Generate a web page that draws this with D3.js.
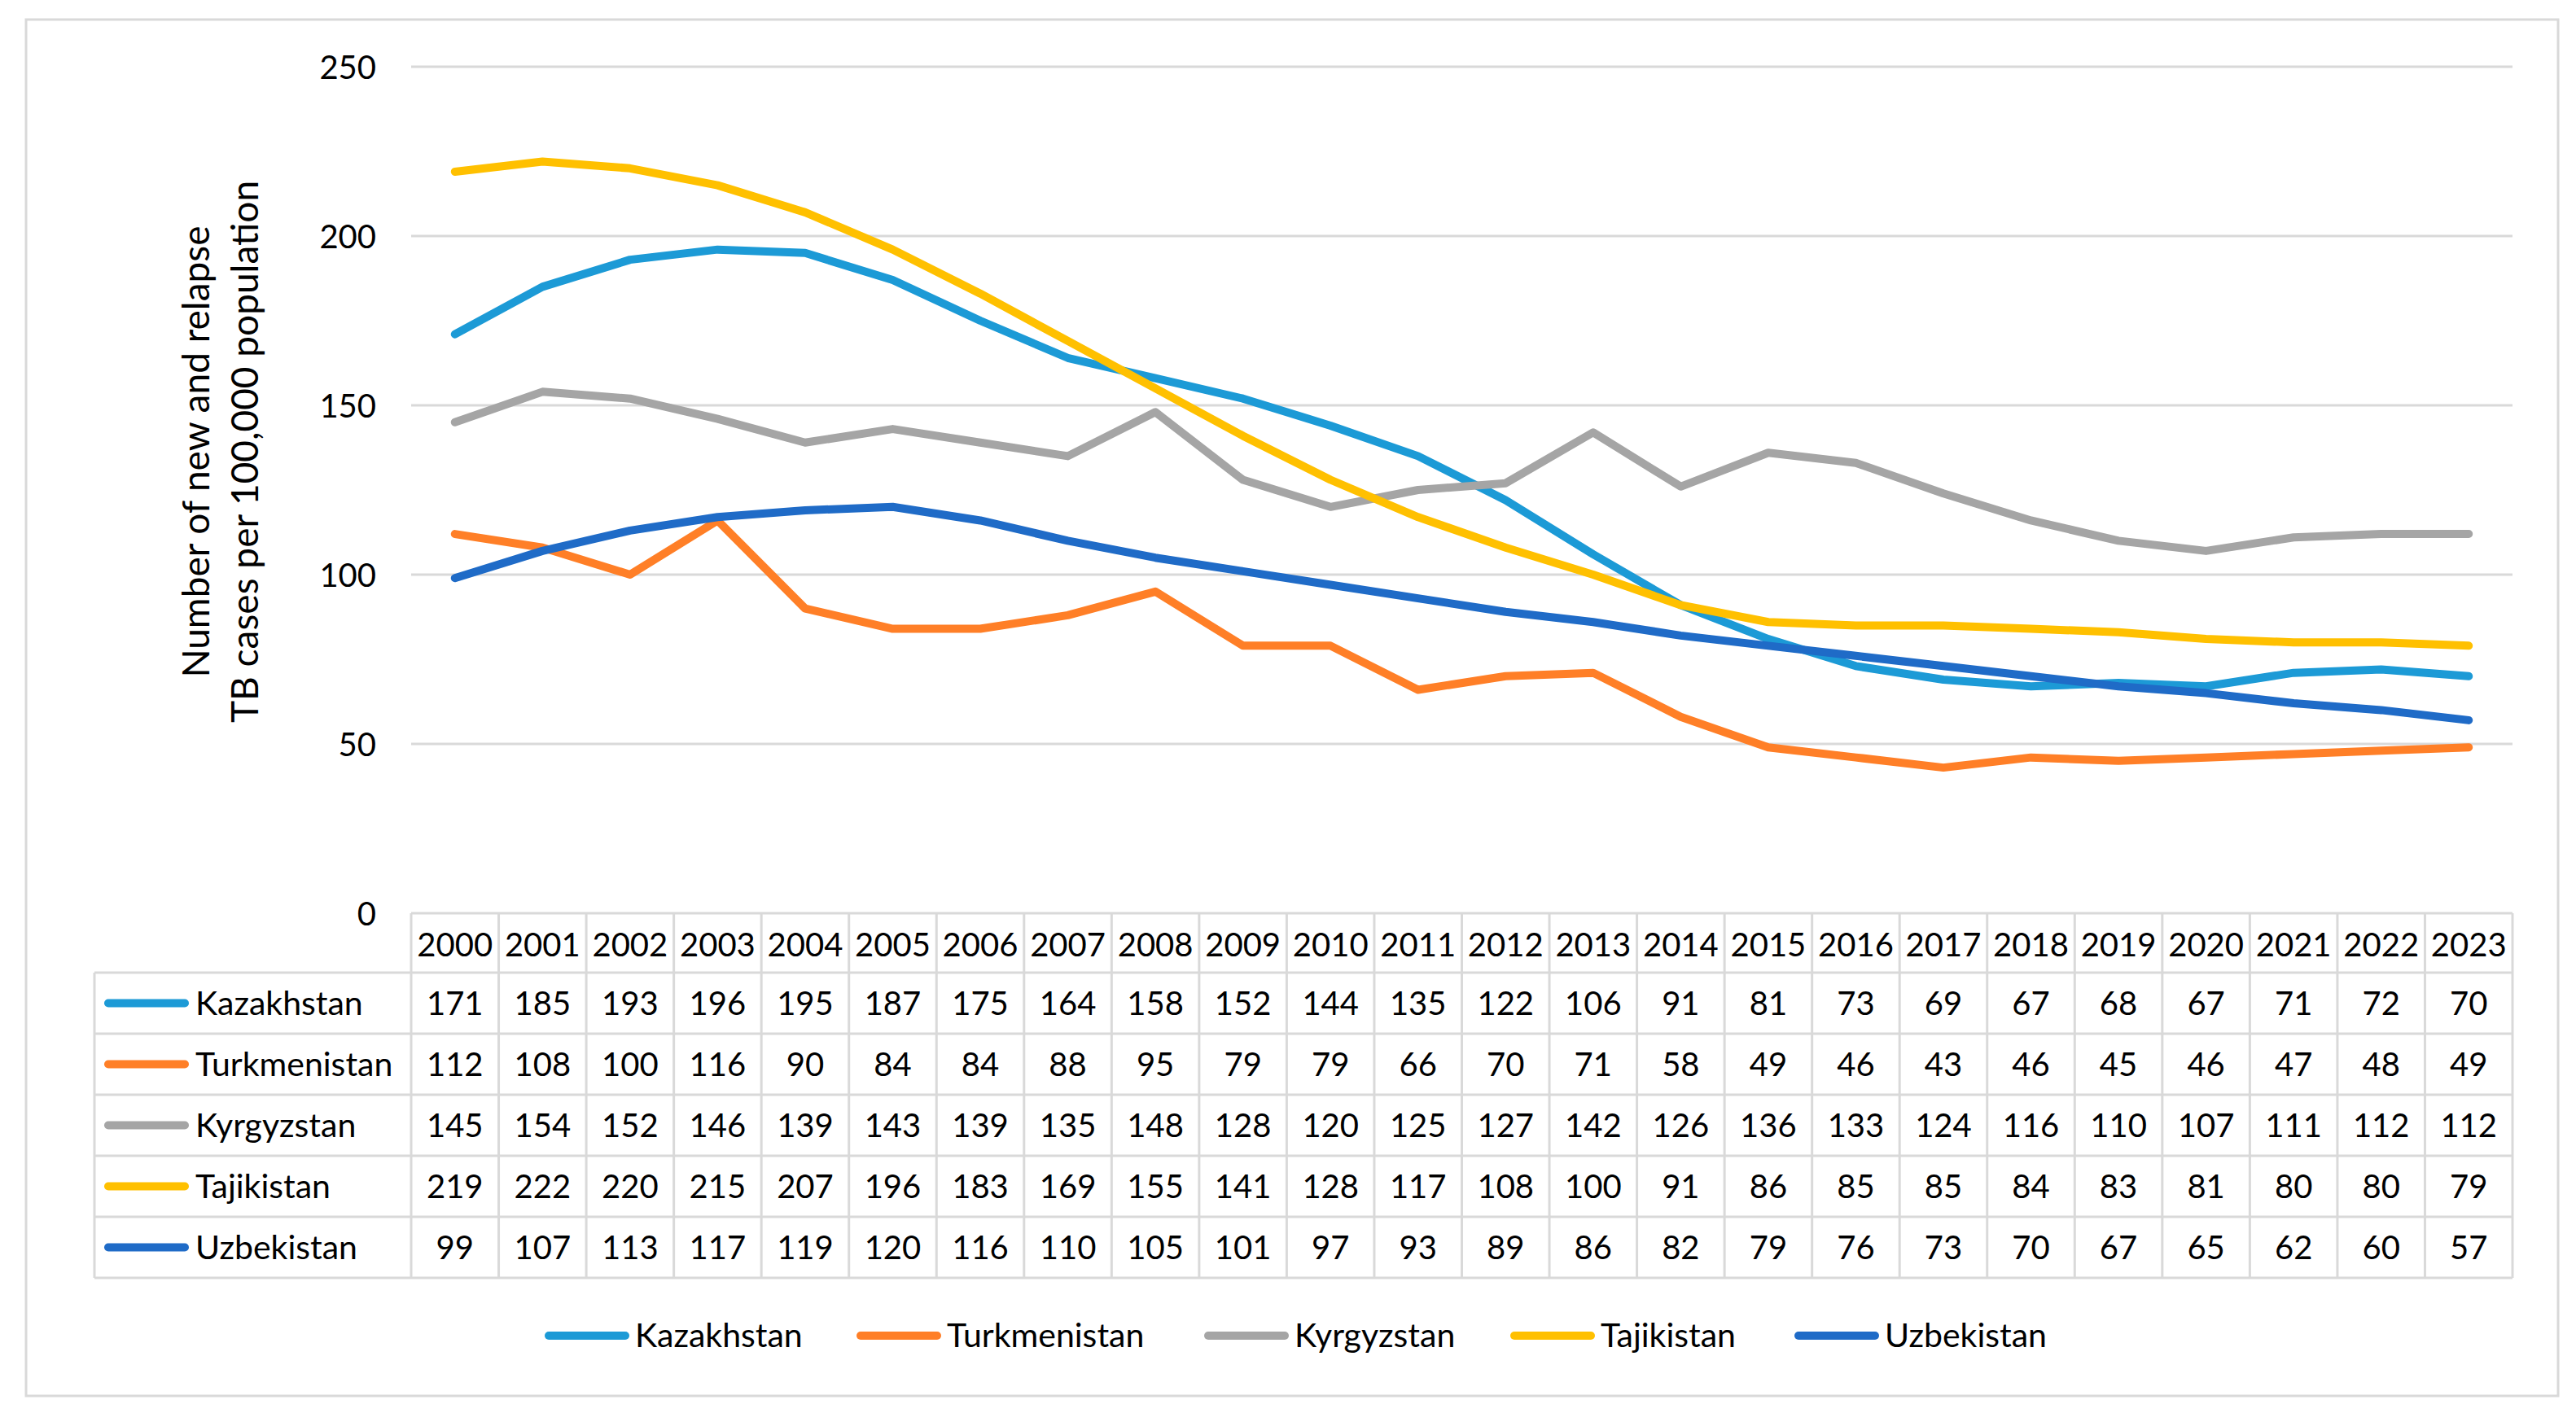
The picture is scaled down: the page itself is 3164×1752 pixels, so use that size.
<!DOCTYPE html>
<html><head><meta charset="utf-8">
<script src="https://cdn.jsdelivr.net/npm/d3@7"></script>
<style>
html,body{margin:0;padding:0;background:#fff;}
svg text{font-family:Lato,"Open Sans",sans-serif;fill:#000;}
</style></head>
<body>
<svg id="c" width="3164" height="1752"></svg>
<script>
const years = [2000,2001,2002,2003,2004,2005,2006,2007,2008,2009,2010,2011,2012,2013,2014,2015,2016,2017,2018,2019,2020,2021,2022,2023];
const countries = ["Kazakhstan","Turkmenistan","Kyrgyzstan","Tajikistan","Uzbekistan"];
const kazakhstan   = [171,185,193,196,195,187,175,164,158,152,144,135,122,106,91,81,73,69,67,68,67,71,72,70];
const turkmenistan = [112,108,100,116,90,84,84,88,95,79,79,66,70,71,58,49,46,43,46,45,46,47,48,49];
const kyrgyzstan   = [145,154,152,146,139,143,139,135,148,128,120,125,127,142,126,136,133,124,116,110,107,111,112,112];
const tajikistan   = [219,222,220,215,207,196,183,169,155,141,128,117,108,100,91,86,85,85,84,83,81,80,80,79];
const uzbekistan   = [99,107,113,117,119,120,116,110,105,101,97,93,89,86,82,79,76,73,70,67,65,62,60,57];
const yTicks = [0,50,100,150,200,250];
const colors = ["#1C9AD6","#FF7F27","#A5A5A5","#FFC000","#1F6BC7"];
const seriesValues = [kazakhstan,turkmenistan,kyrgyzstan,tajikistan,uzbekistan];
const yTitle = ["Number of new and relapse","TB cases per 100,000 population"];

const svg = d3.select("#c");
const FS = 40;
const grid = "#d9d9d9";

// outer frame
svg.append("rect").attr("x",32).attr("y",24).attr("width",3110).attr("height",1691)
  .attr("fill","#fff").attr("stroke",grid).attr("stroke-width",3);

const x0 = 505, x1 = 3086;
const x = d3.scaleBand().domain(years).range([x0,x1]);
const y = d3.scaleLinear().domain([0,250]).range([1122,82]);

// gridlines
svg.append("g").selectAll("line").data(yTicks.filter(d=>d>0)).join("line")
  .attr("x1",x0).attr("x2",x1).attr("y1",d=>y(d)).attr("y2",d=>y(d))
  .attr("stroke",grid).attr("stroke-width",3);

// y axis labels
const yAxis = d3.axisLeft(y).tickValues(yTicks).tickSize(0).tickPadding(0);
const ga = svg.append("g").attr("transform",`translate(${x0-43},0)`).call(yAxis);
ga.select(".domain").remove();
ga.selectAll("text").attr("font-size",FS).attr("font-family","Lato").attr("fill","#000").attr("dy","0.35em");

// y title
const yt = svg.append("text").attr("transform","translate(273,555) rotate(-90)")
  .attr("text-anchor","middle").attr("font-size",46);
yt.selectAll("tspan").data(yTitle).join("tspan")
  .attr("x",0).attr("y",(d,i)=> i===0 ? -16 : 44).text(d=>d);

// lines
const line = d3.line().x((d,i)=>x(years[i])+x.bandwidth()/2).y(d=>y(d));
svg.append("g").selectAll("path").data(seriesValues).join("path")
  .attr("d",line).attr("fill","none").attr("stroke",(d,i)=>colors[i])
  .attr("stroke-width",10).attr("stroke-linecap","round").attr("stroke-linejoin","round");

// data table
const tTop = 1122, hH = 73, rH = 75, tLeft = 116;
const tb = svg.append("g");
const rows = d3.scaleBand().domain(countries).range([tTop+hH, tTop+hH+rH*countries.length]);
tb.append("g").selectAll("text").data(years).join("text")
  .attr("x",d=>x(d)+x.bandwidth()/2).attr("y",tTop+hH/2+2).attr("dy","0.35em")
  .attr("text-anchor","middle").attr("font-size",FS).text(d=>d);
countries.forEach((c,ci)=>{
  tb.append("g").selectAll("text").data(seriesValues[ci]).join("text")
    .attr("x",(d,i)=>x(years[i])+x.bandwidth()/2).attr("y",rows(c)+rH/2).attr("dy","0.35em")
    .attr("text-anchor","middle").attr("font-size",FS).text(d=>d);
});
tb.append("g").selectAll("line").data(countries).join("line")
  .attr("x1",tLeft+17).attr("x2",tLeft+111).attr("y1",c=>rows(c)+rH/2).attr("y2",c=>rows(c)+rH/2)
  .attr("stroke",(c,i)=>colors[i]).attr("stroke-width",10).attr("stroke-linecap","round");
tb.append("g").selectAll("text").data(countries).join("text")
  .attr("x",tLeft+124).attr("y",c=>rows(c)+rH/2).attr("dy","0.35em")
  .attr("font-size",41).text(c=>c);
const tBottom = tTop+hH+rH*countries.length;
const hl = [tTop].concat(countries.map(c=>rows(c)), [tBottom]);
tb.append("g").selectAll("line").data(hl).join("line")
  .attr("x1",(d,i)=> i===0 ? x0 : tLeft).attr("x2",x1).attr("y1",d=>d).attr("y2",d=>d)
  .attr("stroke",grid).attr("stroke-width",3);
const vl = years.map(d=>x(d)).concat([x1]);
tb.append("g").selectAll("line").data(vl).join("line")
  .attr("x1",d=>d).attr("x2",d=>d).attr("y1",tTop).attr("y2",tBottom)
  .attr("stroke",grid).attr("stroke-width",3);
tb.append("line").attr("x1",tLeft).attr("x2",tLeft).attr("y1",tTop+hH).attr("y2",tBottom)
  .attr("stroke",grid).attr("stroke-width",3);

// legend
const legX = [670,1053,1480,1856,2205];
const lg = svg.append("g");
countries.forEach((c,i)=>{
  lg.append("line").attr("x1",legX[i]+4).attr("x2",legX[i]+98).attr("y1",1641).attr("y2",1641)
    .attr("stroke",colors[i]).attr("stroke-width",10).attr("stroke-linecap","round");
  lg.append("text").attr("x",legX[i]+110).attr("y",1641).attr("dy","0.35em")
    .attr("font-size",41).text(c);
});
</script>
</body></html>
